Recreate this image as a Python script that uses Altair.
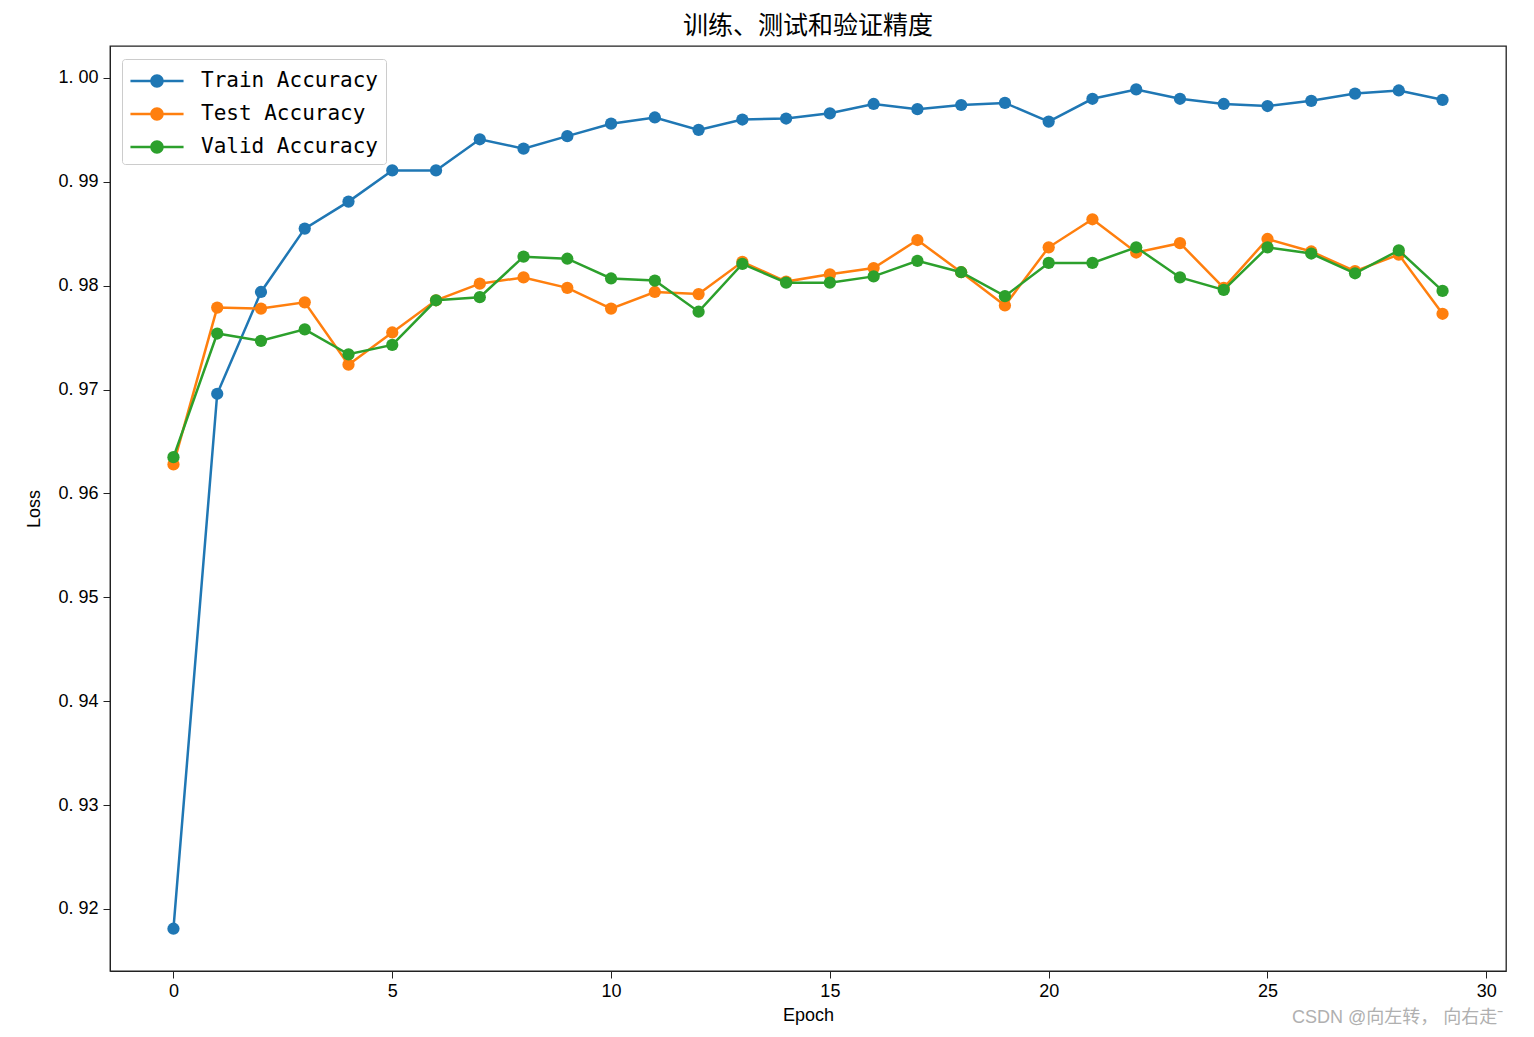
import altair as alt
import pandas as pd

epochs = list(range(30))
train_acc = [0.9181, 0.9696, 0.9794, 0.9855, 0.9881, 0.9911, 0.9911, 0.9941, 0.9932, 0.9944,
             0.9956, 0.9962, 0.9950, 0.9960, 0.9961, 0.9966, 0.9975, 0.9970, 0.9974, 0.9976,
             0.9958, 0.9980, 0.9989, 0.9980, 0.9975, 0.9973, 0.9978, 0.9985, 0.9988, 0.9979]
test_acc = [0.9628, 0.9779, 0.9778, 0.9784, 0.9724, 0.9755, 0.9786, 0.9802, 0.9808, 0.9798,
            0.9778, 0.9794, 0.9792, 0.9823, 0.9804, 0.9811, 0.9817, 0.9844, 0.9813, 0.9781,
            0.9837, 0.9864, 0.9832, 0.9841, 0.9798, 0.9845, 0.9833, 0.9814, 0.9830, 0.9773]
valid_acc = [0.9635, 0.9754, 0.9747, 0.9758, 0.9734, 0.9743, 0.9786, 0.9789, 0.9828, 0.9826,
             0.9807, 0.9805, 0.9775, 0.9821, 0.9803, 0.9803, 0.9809, 0.9824, 0.9813, 0.9790,
             0.9822, 0.9822, 0.9837, 0.9808, 0.9796, 0.9837, 0.9831, 0.9812, 0.9834, 0.9795]

series_names = ["Train Accuracy", "Test Accuracy", "Valid Accuracy"]
series_colors = ["#1f77b4", "#ff7f0e", "#2ca02c"]
series_values = [train_acc, test_acc, valid_acc]

rows = []
for name, vals in zip(series_names, series_values):
    for e, v in zip(epochs, vals):
        rows.append({"Epoch": e, "Value": v, "Series": name})
df = pd.DataFrame(rows)

x_enc = alt.X("Epoch:Q", scale=alt.Scale(domain=[-1.45, 30.45], nice=False, zero=False),
              axis=alt.Axis(values=[0, 5, 10, 15, 20, 25, 30], title="Epoch"))
y_enc = alt.Y("Value:Q", scale=alt.Scale(domain=[0.91403, 1.00308], nice=False, zero=False),
              axis=alt.Axis(values=[0.92, 0.93, 0.94, 0.95, 0.96, 0.97, 0.98, 0.99, 1.00],
                            labelExpr="replace(format(datum.value, '.2f'), '.', '. ')",
                            title="Loss"))

# symbol nominal size 30px (scale 15px per unit); path spans +-1.77 units -> ~53px wide
legend_path = ("M-1.77,-0.085 L1.77,-0.085 L1.77,0.085 L-1.77,0.085 Z "
               "M0.45,0 A0.45,0.45 0 1,1 -0.45,0 A0.45,0.45 0 1,1 0.45,0 Z")

color_enc = alt.Color("Series:N",
                      scale=alt.Scale(domain=series_names, range=series_colors),
                      sort=series_names,
                      legend=alt.Legend(title=None, orient="none", legendX=12, legendY=13,
                                        symbolType=legend_path, symbolSize=900,
                                        symbolStrokeWidth=0, symbolOpacity=1,
                                        symbolOffset=13,
                                        labelFont="DejaVu Sans Mono", labelFontSize=21,
                                        labelColor="black", labelOffset=29, labelLimit=400,
                                        rowPadding=8, padding=7,
                                        strokeColor="#cccccc", fillColor="white",
                                        cornerRadius=3))

layers = []
for name, col in zip(series_names, series_colors):
    base = alt.Chart(df).transform_filter(alt.datum.Series == name)
    layers.append(base.mark_line(strokeWidth=2.5).encode(x=x_enc, y=y_enc, color=alt.value(col)))
    layers.append(base.mark_point(filled=True, size=150, opacity=1).encode(x=x_enc, y=y_enc, color=color_enc))

watermark = alt.Chart(pd.DataFrame({"t": ["CSDN @向左转， 向右走ˉ"]})).mark_text(
    align="left", baseline="middle", fontSize=18, color="#b0b0b0",
    font="Liberation Sans, Noto Sans CJK SC"
).encode(text="t:N", x=alt.value(1182), y=alt.value(972))
layers.append(watermark)

chart = alt.layer(*layers).properties(
    width=1396, height=925,
    title=alt.TitleParams("训练、测试和验证精度", font="Noto Sans CJK SC", fontSize=25,
                          fontWeight="normal", color="black", anchor="middle", offset=7),
    autosize=alt.AutoSizeParams(type="none"),
    padding={"left": 110, "top": 46, "right": 28, "bottom": 66},
).configure_view(stroke="#222222", strokeWidth=1.3).configure_axis(
    grid=False, domainColor="#222222", tickColor="#222222", tickSize=7,
    labelFont="Liberation Sans Narrow, Liberation Sans", labelFontSize=18, labelColor="black",
    titleFont="Liberation Sans Narrow, Liberation Sans", titleFontSize=18, titleFontWeight="normal",
    titleColor="black"
).configure_axisX(labelPadding=4, titlePadding=6).configure_axisY(labelPadding=5, titlePadding=14)

chart.save("out.html", embed_options={"renderer": "svg", "actions": False})
